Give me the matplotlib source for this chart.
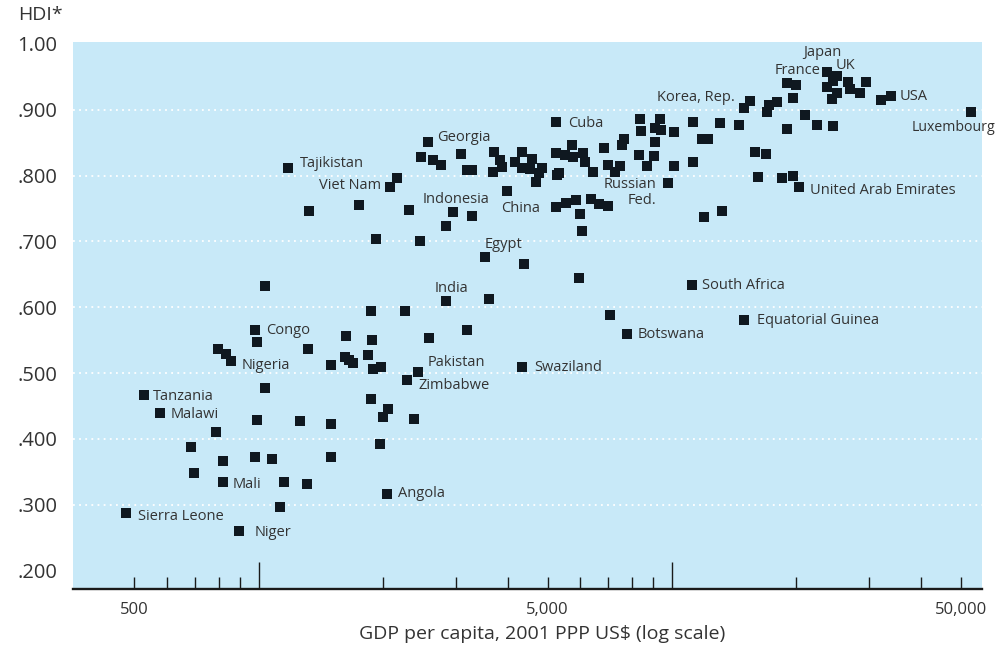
import matplotlib
matplotlib.use("Agg")
import matplotlib.pyplot as plt

plt.rcParams['font.family'] = ['Open Sans', 'DejaVu Sans']

# ---------------- data ----------------
gdp = [477, 527, 576, 685, 696, 787, 796, 818, 818, 835,
       857, 896, 978, 978, 991, 991, 1034, 1034, 1075, 1124,
       1150, 1256, 1307, 1314, 1494, 1494, 1494, 1618, 1624, 1657,
       1694, 1835, 1866, 1866, 1877, 1894, 1963, 1977, 1995, 2040,
       2051, 2256, 2281, 2371, 2424, 2578, 2835, 3187, 3602, 3523,
       4378, 4329, 5957, 7079, 7783, 11180, 14940, 1176, 1321, 1746,
       1919, 2075, 2157, 2306, 2452, 2466, 2564, 2645, 2756, 3082,
       3187, 3288, 2947, 3277, 2835, 3703, 3835, 3873, 3683, 3996,
       4170, 4329, 4329, 4577, 4534, 4838, 4774, 4680, 5231, 5240,
       5720, 5511, 5770, 6073, 6158, 6422, 5260, 5337, 6846, 7012,
       7486, 7280, 7665, 7554, 8401, 8368, 8335, 8686, 9097, 9354,
       9406, 10111, 9097, 9045, 10111, 9763, 11220, 11220, 11840, 12200,
       13070, 11950, 13210, 5240, 5540, 5857, 6368, 6670, 6988, 5990,
       6047, 14530, 14940, 15450, 15880, 16120, 16880, 16950, 17200, 17920,
       18430, 18950, 18950, 19590, 19590, 19950, 20290, 20980, 22390, 23670,
       23760, 24350, 24480, 24570, 25030, 25030, 26710, 26960, 28500, 29420,
       32040, 33820, 52900]

hdi = [.287, .466, .439, .387, .348, .411, .537, .366, .334, .529,
       .519, .260, .566, .373, .547, .428, .632, .477, .370, .296,
       .334, .427, .332, .537, .512, .423, .373, .524, .557, .520,
       .516, .527, .594, .460, .550, .506, .392, .509, .434, .317,
       .446, .594, .490, .431, .501, .554, .609, .566, .612, .677,
       .665, .509, .644, .588, .560, .634, .581, .812, .747, .756,
       .704, .782, .797, .748, .701, .829, .851, .823, .816, .833,
       .809, .809, .744, .738, .724, .836, .824, .813, .805, .776,
       .820, .836, .811, .826, .810, .811, .804, .791, .881, .835,
       .847, .831, .828, .834, .821, .806, .801, .804, .842, .816,
       .815, .806, .856, .847, .868, .886, .831, .814, .873, .886,
       .870, .867, .851, .830, .814, .789, .882, .821, .856, .856,
       .880, .737, .747, .752, .758, .763, .765, .757, .754, .741,
       .716, .877, .902, .913, .836, .798, .833, .896, .908, .912,
       .796, .940, .871, .918, .800, .937, .782, .892, .877, .934,
       .957, .916, .875, .943, .951, .925, .942, .931, .926, .942,
       .915, .921, .897]

names = ['Sierra Leone', 'Tanzania', 'Malawi', '', '', '', '', '', 'Mali', '',
         'Nigeria', 'Niger', 'Congo', '', '', '', '', '', '', '',
         '', '', '', '', '', '', '', '', '', '',
         '', '', '', '', '', '', '', '', '', 'Angola',
         '', '', 'Zimbabwe', '', 'Pakistan', '', 'India', '', '', 'Egypt',
         '', 'Swaziland', '', '', 'Botswana', 'South Africa', 'Equatorial Guinea', 'Tajikistan', '', '',
         '', 'Viet Nam', '', '', '', '', 'Georgia', '', '', '',
         '', '', 'Indonesia', '', '', '', '', '', '', 'China',
         '', '', '', '', '', '', '', '', 'Cuba', '',
         '', '', '', '', '', '', '', '', '', '',
         '', '', '', '', '', '', '', 'Russian\nFed.', '', '',
         '', '', '', '', '', '', '', '', '', '',
         '', '', '', '', '', '', '', '', '', '',
         '', '', '', 'Korea, Rep.', '', '', '', '', '', '',
         '', '', '', '', '', '', 'United Arab Emirates', '', '', 'France',
         'Japan', '', '', 'UK', '', '', '', '', '', '',
         '', 'USA', 'Luxembourg']

x_tick_vals = [500, 600, 700, 800, 900, 2000, 3000, 4000, 5000, 6000,
               7000, 8000, 9000, 20000, 30000, 40000, 50000]
x_tick_labels = ['500', '', '', '', '', '', '', '', '5,000', '',
                 '', '', '', '', '', '', '50,000']
x_long_ticks = [1000, 10000]
y_tick_vals = [.2, .3, .4, .5, .6, .7, .8, .9, 1.0]
y_tick_labels = ['.200', '.300', '.400', '.500', '.600', '.700', '.800', '.900', '1.00']
grid_vals = [.3, .4, .5, .6, .7, .8, .9]

# label offsets in points (dx, dy, ha)
label_style = {
    'Sierra Leone': (8.9, -2.2, 'left'),
    'Tanzania': (6.7, -0.9, 'left'),
    'Malawi': (7.4, -0.9, 'left'),
    'Mali': (7.4, -1.7, 'left'),
    'Nigeria': (7.2, -3.6, 'left'),
    'Niger': (10.8, -0.9, 'left'),
    'Congo': (8.1, -0.7, 'left'),
    'Angola': (8.1, 0, 'left'),
    'Zimbabwe': (8.1, -4.5, 'left'),
    'Pakistan': (7.4, 7.0, 'left'),
    'India': (-8.4, 9.1, 'left'),
    'Egypt': (-0.5, 8.4, 'left'),
    'Swaziland': (8.9, 0, 'left'),
    'Botswana': (7.9, -0.7, 'left'),
    'South Africa': (7.2, -0.7, 'left'),
    'Equatorial Guinea': (9.4, -0.7, 'left'),
    'Tajikistan': (8.9, 2.7, 'left'),
    'Viet Nam': (-6.3, 1.2, 'right'),
    'Georgia': (6.7, 3.6, 'left'),
    'Indonesia': (-21.4, 9.1, 'left'),
    'China': (-4.5, -12.5, 'left'),
    'Cuba': (8.9, -0.9, 'left'),
    'Russian\nFed.': (6.7, -18.7, 'right'),
    'Korea, Rep.': (-10.8, 2.9, 'right'),
    'France': (-4.8, 12.0, 'right'),
    'Japan': (-3.5, 14.6, 'center'),
    'UK': (1.9, 11.3, 'left'),
    'USA': (6.7, -0.7, 'left'),
    'Luxembourg': (-43.0, -11.0, 'left'),
    'United Arab Emirates': (7.9, -1.9, 'left'),
}

# ---------------- figure ----------------
W, H = 999, 653
fig = plt.figure(figsize=(W / 100, H / 100), dpi=100)
ax = fig.add_axes([73 / W, 1 - 589 / H, (982 - 73) / W, (589 - 42) / H])
ax.set_facecolor('#c8e9f8')

ax.set_xscale('log')
ax.set_xlim(355, 56240)
ax.set_ylim(0.172, 1.003)

for g in grid_vals:
    ax.axhline(g, color='white', lw=1.3, ls=(0, (1, 2.4)), zorder=1)

ax.scatter(gdp, hdi, marker='s', s=50, color='#0f1820', linewidths=0,
           zorder=3, clip_on=False)

text_color = '#333333'
for g, h, n in zip(gdp, hdi, names):
    if not n:
        continue
    dx, dy, ha = label_style[n]
    ax.annotate(n, (g, h), xytext=(dx, dy), textcoords='offset points',
                ha=ha, va='center', fontsize=10.5 if n != 'Luxembourg' else 10.2,
                color=text_color, multialignment='right', linespacing=1.15,
                zorder=4, annotation_clip=False)

# spines
for s in ['left', 'top', 'right']:
    ax.spines[s].set_visible(False)
ax.spines['bottom'].set_linewidth(1.7)
ax.spines['bottom'].set_color('#1a1a1a')
ax.spines['bottom'].set_zorder(5)

# x ticks
ax.set_xticks(x_long_ticks, labels=['' for _ in x_long_ticks])
ax.set_xticks(x_tick_vals, labels=x_tick_labels, minor=True)
ax.tick_params(axis='x', which='major', direction='in', length=19.5,
               width=1.0, color='#1a1a1a')
ax.tick_params(axis='x', which='minor', direction='in', length=8.6,
               width=1.0, color='#1a1a1a', labelsize=12, pad=9,
               labelcolor=text_color)

# y ticks
ax.set_yticks(y_tick_vals, labels=y_tick_labels)
ax.tick_params(axis='y', which='both', length=0, pad=11.5, labelsize=14.5,
               labelcolor=text_color)

fig.text(542 / W, 1 - 634 / H, 'GDP per capita, 2001 PPP US$ (log scale)',
         ha='center', va='center', fontsize=14, color=text_color)
fig.text(18 / W, 1 - 15 / H, 'HDI*', ha='left', va='center',
         fontsize=14, color=text_color)

fig.savefig('out.png', dpi=100)
